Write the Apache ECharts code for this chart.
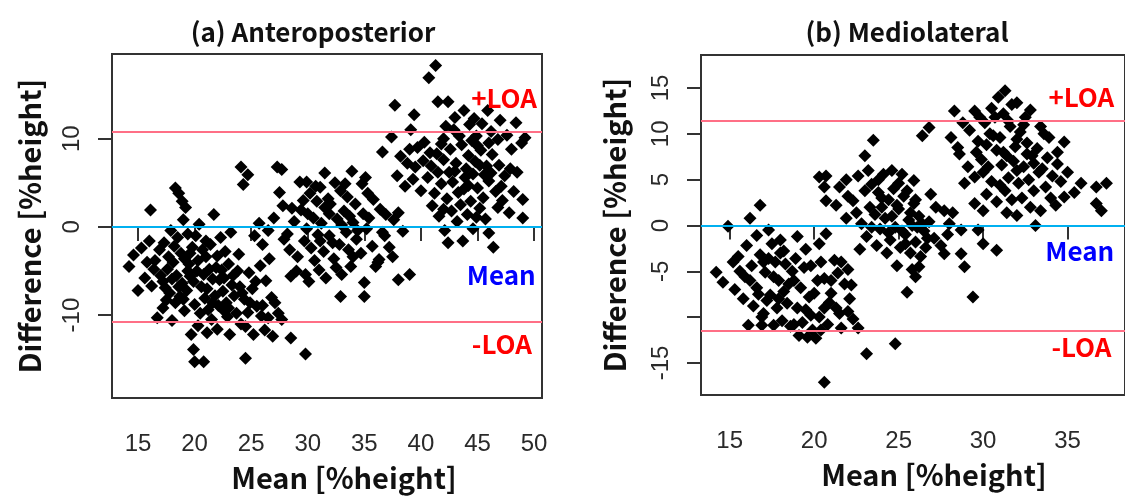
<!DOCTYPE html>
<html><head><meta charset="utf-8">
<script src="https://cdn.jsdelivr.net/npm/echarts@6/dist/echarts.min.js"></script>
<style>html,body{margin:0;padding:0;background:#fff}#c{width:1125px;height:499px}</style>
</head><body><div id="c"></div>
<script>
// ---- texts ----
const panelTitles = ['(a) Anteroposterior', '(b) Mediolateral'];
const xAxisName = 'Mean [%height]';
const yAxisName = 'Difference [%height]';

// ---- ticks / labels ----
const apXTicks = [15, 20, 25, 30, 35, 40, 45, 50];
const apYTicks = [-10, 0, 10];
const apYLabels = [-10, 0, 10];
const mlXTicks = [15, 20, 25, 30, 35, 40];
const mlYTicks = [-15, -10, -5, 0, 5, 10, 15];
const mlYLabels = [-15, -5, 0, 5, 10, 15];

// ---- reference lines ----
const apMean = 0.0, apUpperLOA = 10.8, apLowerLOA = -10.8;
const mlMean = 0.0, mlUpperLOA = 11.4, mlLowerLOA = -11.5;

// ---- (a) Anteroposterior points [mean, difference] ----
const apPoints = [
[14.2,-4.5],[14.6,-3.2],[15.6,-5.8],[15.3,-2.4],[16.1,1.9],[16.0,-1.6],[16.7,-10.3],[17.2,-9.2],[16.5,-3.8],[16.9,-2.6],
[17.3,-1.8],[17.6,-4.8],[17.2,-6.2],[17.8,-7.5],[18.3,-8.6],[17.9,-0.4],[18.3,4.4],[18.6,3.8],[18.9,2.9],[19.2,2.2],
[19.0,0.8],[18.5,-1.2],[18.8,-3.0],[18.4,-5.5],[18.9,-6.4],[19.3,-7.2],[19.7,-12.2],[19.9,-13.9],[20.0,-15.3],[20.8,-15.3],
[19.5,-4.2],[19.8,-2.3],[20.1,-1.0],[20.4,0.3],[20.2,-5.0],[20.6,-6.8],[20.9,-8.1],[21.2,-9.4],[21.5,-10.5],[21.0,-3.4],
[21.4,-2.0],[21.7,1.4],[21.9,-4.6],[22.2,-6.0],[22.5,-7.3],[22.8,-8.6],[22.3,-1.2],[22.7,-2.8],[23.1,-12.2],[23.0,-4.2],
[23.4,-5.5],[23.7,-9.8],[24.1,-11.0],[24.5,-11.3],[24.5,-14.9],[25.2,-12.2],[26.2,-11.7],[24.0,-6.8],[24.4,-8.2],[24.8,-5.2],
[25.1,-7.0],[25.5,-9.0],[25.9,-10.1],[26.3,-6.1],[26.8,-8.0],[27.1,-8.6],[27.4,-9.8],[27.7,-10.5],[28.5,-12.6],[29.8,-14.4],
[28.5,-5.6],[29.8,-5.4],[24.1,6.8],[24.7,5.9],[24.3,4.8],[25.7,0.4],[26.0,-2.0],[26.6,-3.6],[27.3,6.8],[27.7,6.5],
[22.0,-11.6],[21.1,-12.0],[20.3,-11.2],[19.1,-9.5],[18.0,-10.6],[17.5,-8.3],[16.2,-6.7],[15.0,-7.2],[17.0,-5.5],[17.7,-3.4],
[18.2,-2.2],[19.4,-0.8],[20.7,-2.6],[21.3,-4.8],[21.8,-7.8],[22.9,-10.2],[23.5,-7.8],[23.9,-3.1],[24.7,-9.7],[25.8,-4.4],
[26.9,-12.4],[27.9,-1.4],[25.3,-1.0],[23.2,-0.6],[22.1,-8.9],[20.5,-9.8],[19.6,-5.6],[18.7,-7.9],
[18.1,-4.0],[18.6,-6.8],[19.1,-3.6],[19.4,-5.0],[19.9,-6.2],[20.3,-3.8],[20.8,-5.4],[21.1,-7.0],[21.6,-5.9],[22.0,-3.3],
[22.4,-4.9],[22.6,-9.5],[23.3,-6.6],[23.8,-5.0],[24.2,-7.5],[24.9,-8.6],[25.4,-6.2],[26.0,-8.9],[26.5,-10.3],[23.0,-9.2],
[21.6,-8.6],[20.0,-8.8],[19.0,-8.2],[18.0,-5.9],[17.4,-6.9],[16.4,-4.8],[15.8,-4.0],[19.6,-3.0],[21.0,-1.6],[22.6,-5.8],
[29.3,5.1],[29.9,5.1],[31.5,6.1],[33.9,6.3],[30.2,3.8],[30.8,2.9],[31.1,4.5],[31.8,3.2],[32.4,5.0],[32.9,4.1],
[33.5,3.4],[34.2,2.6],[34.8,4.9],[35.3,3.8],[35.8,3.1],[36.4,2.0],[36.9,1.4],[37.6,0.8],[38.0,1.6],[35.1,5.6],
[33.2,1.8],[32.6,0.9],[31.9,1.5],[31.2,0.4],[30.5,1.0],[29.9,-0.2],[29.4,1.9],[28.8,0.6],[28.2,-0.8],[27.8,2.4],
[27.5,3.9],[28.4,-2.6],[29.1,-3.4],[29.7,-1.6],[30.3,-2.4],[30.9,-0.9],[31.4,-2.8],[31.9,-1.0],[32.3,-3.6],[32.8,-2.0],
[33.4,-0.6],[33.8,-4.5],[34.3,-1.4],[34.7,-3.0],[35.2,-0.2],[35.7,-2.2],[36.2,-4.0],[36.0,-4.5],[36.3,-3.7],[37.5,-3.4],
[35.0,-6.3],[35.0,-7.9],[32.9,-7.9],[38.0,-6.0],[39.0,-5.4],[36.8,-1.0],[37.2,-2.3],[38.4,-0.5],[33.0,-5.4],[31.0,-4.9],
[30.1,-6.2],[29.0,-5.0],[34.0,0.5],[32.0,2.6],[30.6,-3.8],[33.6,-2.6],[34.9,1.5],[31.6,-5.8],[27.0,1.0],[26.5,-0.4],
[30.0,1.5],[30.7,4.6],[31.5,2.2],[32.2,-1.8],[33.0,0.2],[33.7,1.2],[34.4,-0.4],[35.4,1.0],[36.6,-0.6],[31.1,-1.6],
[32.5,-4.6],[34.0,-3.4],[29.6,3.0],[28.6,2.1],[33.3,4.9],
[40.7,16.9],[41.3,18.3],[37.7,13.8],[39.4,12.7],[41.5,14.2],[42.4,14.2],[43.8,13.2],[45.9,13.2],[37.4,10.2],[39.1,11.0],
[42.2,11.4],[42.9,11.0],[44.3,11.6],[44.9,10.3],[45.4,11.7],[46.2,10.8],[47.6,10.4],[49.2,10.1],[48.9,9.5],[36.6,8.5],
[38.2,8.0],[38.8,7.2],[39.5,6.8],[40.2,7.5],[40.9,6.9],[41.4,8.3],[42.0,7.6],[42.6,8.8],[43.1,7.2],[43.6,9.3],
[44.2,8.1],[44.8,7.4],[45.3,8.7],[45.8,6.9],[46.3,8.2],[46.9,7.0],[47.4,5.8],[47.9,6.6],[37.9,5.8],[38.6,4.6],
[39.3,5.4],[40.0,4.1],[40.6,5.6],[41.2,3.8],[41.8,4.9],[42.3,3.2],[42.8,5.1],[43.3,3.9],[43.9,5.6],[44.4,2.9],
[45.0,4.4],[45.5,3.3],[46.0,5.2],[46.6,4.0],[47.2,3.0],[48.2,4.0],[49.0,3.1],[49.0,1.0],[46.0,-0.7],[41.0,2.4],
[41.6,1.2],[42.1,-0.4],[42.7,1.8],[43.2,0.6],[43.7,-1.6],[44.1,1.4],[44.6,-0.2],[45.2,2.1],[45.7,0.9],[46.4,-2.3],
[47.8,1.6],[48.5,6.2],[42.4,-1.8],[43.5,2.5],[44.0,6.6],[42.0,10.0],[40.3,9.6],[41.8,9.4],[45.0,9.2],[46.8,9.9],
[48.0,8.8],[43.0,12.4],[44.7,12.3],[39.7,9.0],[47.0,12.1],[48.4,11.8],[44.2,4.7],[45.6,5.9],[43.0,6.3],
[42.5,6.2],[43.8,4.3],[44.6,6.0],[45.2,7.0],[46.2,6.1],[47.1,4.6],[41.5,6.2],[40.8,8.4],[39.0,8.8],[43.4,10.3],
[44.5,9.8],[46.0,9.5],[42.0,2.0],[44.9,1.1],[46.8,2.2]
];

// ---- (b) Mediolateral points [mean, difference] ----
const mlPoints = [
[14.9,-0.1],[16.2,0.8],[16.8,2.2],[16.6,-1.1],[17.3,-0.5],[14.2,-5.1],[14.6,-6.2],[15.2,-4.0],[15.8,-8.0],[16.1,-10.9],
[16.9,-10.9],[17.6,-10.9],[19.1,-12.0],[19.6,-12.2],[20.1,-12.3],[20.6,-17.1],[22.6,-11.2],[15.5,-3.4],[15.9,-5.6],[16.3,-4.4],
[16.6,-6.8],[16.8,-3.2],[17.1,-5.1],[17.4,-7.6],[17.7,-4.0],[17.9,-6.0],[18.2,-2.8],[18.4,-8.5],[18.7,-5.0],[18.9,-3.6],
[19.2,-6.8],[19.5,-9.2],[19.8,-4.4],[20.0,-7.4],[20.3,-10.0],[20.6,-5.8],[20.9,-8.4],[21.2,-3.8],[21.5,-9.6],[21.8,-6.4],
[22.1,-8.0],[22.3,-10.2],[16.4,-8.8],[17.0,-9.6],[17.8,-9.0],[18.1,-10.4],[18.6,-11.0],[19.3,-10.6],[20.8,-10.8],[21.6,-11.2],
[21.6,-4.0],[22.2,-6.5],[15.3,-7.0],[18.0,-1.6],[19.0,-1.2],[20.3,-2.0],[16.0,-2.2],[17.5,-2.0],[18.5,-6.4],[19.7,-7.8],
[21.0,-6.0],[22.0,-4.8],[17.2,-8.2],[19.9,-11.4],[21.3,-9.0],[20.4,-4.0],[18.3,-4.2],[17.3,-3.6],[16.7,-7.5],
[17.6,-5.6],[18.2,-7.2],[18.8,-6.0],[19.4,-4.6],[19.8,-9.8],[20.2,-6.0],[20.6,-9.0],[21.0,-7.4],[17.0,-4.0],[16.2,-6.0],
[17.9,-8.0],[19.0,-9.0],[18.0,-3.0],[21.4,-5.2],[22.0,-9.4],[19.5,-2.6],[16.9,-10.0],[18.8,-10.8],[20.4,-11.4],[15.6,-5.0],
[20.7,-0.9],[20.3,5.3],[20.7,5.4],[20.6,4.2],[20.7,2.7],[21.3,2.2],[22.3,2.7],[23.0,7.6],[23.5,9.3],[23.2,6.0],
[25.9,4.9],[26.4,9.8],[26.8,10.7],[27.2,2.0],[27.7,1.6],[28.2,1.4],[28.7,-0.5],[30.8,-2.7],[23.1,-14.0],[24.8,-12.9],
[25.5,-7.3],[26.0,-5.6],[24.9,-4.4],[26.2,-4.5],[28.9,-4.5],[29.4,-7.8],[27.7,-3.1],[28.7,-3.1],
[23.4,4.5],[23.8,3.6],[24.1,5.6],[24.4,2.8],[24.7,4.0],[25.0,1.8],[25.3,3.2],[25.6,0.6],[25.9,2.4],[26.2,1.0],
[26.5,-0.6],[26.8,0.4],[27.1,-1.4],[23.6,1.2],[23.9,-0.4],[24.2,0.8],[24.5,-1.6],[24.8,-0.2],[25.1,-2.4],[25.4,-1.0],
[25.7,-3.0],[26.0,-1.8],[26.3,-3.4],[26.6,-2.4],[22.8,0.2],[23.1,-1.2],[23.3,2.0],[22.5,1.4],[21.9,0.8],[22.0,3.2],
[21.5,4.2],[21.9,5.0],[24.0,3.0],[24.6,6.0],[25.2,5.6],[25.8,-4.8],[24.3,-3.0],[23.7,-2.2],[27.5,-2.2],[28.0,0.2],
[27.9,-1.0],[22.7,-2.6],[26.9,3.4],[25.5,3.8],[24.9,2.2],[26.1,-0.2],
[24.6,1.0],[25.2,-0.6],[25.8,0.0],[24.0,2.0],[25.0,4.6],[23.8,5.0],[26.4,0.2],[26.0,2.8],[24.4,-0.8],[25.4,-2.0],
[23.4,-0.2],[26.7,-1.4],[23.0,3.8],[22.6,5.4],[25.7,1.4],
[28.1,9.6],[28.5,8.5],[28.6,7.8],[28.3,12.5],[29.5,12.5],[31.3,14.7],[30.9,14.0],[32.0,13.4],[32.5,11.8],[33.6,10.0],
[34.8,9.1],[35.0,5.8],[34.4,6.7],[36.7,4.2],[37.3,4.6],[36.7,2.4],[37.0,1.6],[34.8,3.1],[33.1,0.0],[29.5,2.4],
[30.0,1.6],[31.4,1.4],[32.0,1.1],[29.5,5.3],[28.9,4.6],[30.8,8.2],[30.3,6.4],
[29.2,10.4],[29.7,9.2],[30.1,11.2],[30.4,10.0],[30.7,11.8],[31.0,9.6],[31.2,12.2],[31.6,10.8],[31.9,8.6],[32.2,10.2],
[32.6,9.0],[32.9,7.6],[33.2,8.4],[33.5,6.2],[33.8,7.4],[34.1,5.4],[29.9,7.2],[30.5,4.8],[31.1,6.6],[31.5,5.2],
[31.8,7.0],[32.1,4.6],[32.4,6.4],[32.7,5.0],[33.0,3.8],[33.3,5.8],[33.7,4.2],[34.0,3.0],[34.3,2.2],[30.2,3.4],
[30.8,2.6],[31.3,3.8],[31.7,2.8],[32.3,3.0],[32.8,2.0],[29.1,6.4],[28.8,11.2],[33.9,9.6],[32.8,12.6],[31.7,13.2],
[30.5,12.8],[29.6,8.0],[34.6,4.8],[35.4,3.6],[35.8,4.6],[30.0,-2.0],[29.7,-0.5],[33.4,1.6],
[30.2,8.8],[30.6,9.8],[31.2,8.0],[31.5,11.4],[32.0,9.4],[32.4,11.0],[32.0,6.0],[31.0,4.4],[32.6,7.8],[33.4,10.8],
[29.8,11.8],[30.0,5.8],[33.0,6.8],[31.4,7.6],[34.4,8.0]
];

// ---- build ----
const FONT_CJK = "'Noto Sans CJK JP', 'Noto Sans', sans-serif";
const FONT_TICK = "'Liberation Sans Narrow', 'Liberation Sans', sans-serif";
const TXT = '#2a2a2a';
const LOA_COLOR = '#ff6f86';
const MEAN_COLOR = '#00b0f0';

function xAxisCfg(gridIndex, min, max, ticks, namePad) {
  return {
    type: 'value', gridIndex, min, max,
    name: xAxisName, nameLocation: 'middle', nameGap: 65,
    nameTextStyle: { fontFamily: FONT_CJK, fontSize: 29, fontWeight: 'bold', color: '#111', padding: [0, 0, 0, namePad] },
    axisLine: { show: false },
    axisTick: { show: true, length: 14, lineStyle: { color: '#333', width: 2 }, customValues: ticks },
    axisLabel: { show: true, margin: 34, fontFamily: FONT_TICK, fontSize: 24, color: TXT, customValues: ticks },
    splitLine: { show: false }
  };
}
function yAxisCfg(gridIndex, min, max, ticks, labels, nameGap) {
  return {
    type: 'value', gridIndex, min, max,
    name: yAxisName, nameLocation: 'middle', nameGap, nameRotate: 90,
    nameTextStyle: { fontFamily: FONT_CJK, fontSize: 29, fontWeight: 'bold', color: '#111' },
    axisLine: { show: false },
    axisTick: { show: true, length: 14, lineStyle: { color: '#333', width: 2 }, customValues: ticks },
    axisLabel: { show: true, rotate: 90, margin: 28, fontFamily: FONT_TICK, fontSize: 24, color: TXT, customValues: labels },
    splitLine: { show: false }
  };
}
function refLines(mean, up, low) {
  return {
    silent: true, symbol: 'none', animation: false,
    label: { show: false },
    data: [
      { yAxis: up, lineStyle: { color: LOA_COLOR, width: 2, type: 'solid', opacity: 1 } },
      { yAxis: mean, lineStyle: { color: MEAN_COLOR, width: 2, type: 'solid', opacity: 1 } },
      { yAxis: low, lineStyle: { color: LOA_COLOR, width: 2, type: 'solid', opacity: 1 } }
    ]
  };
}
function annot(xIdx, items) {
  return {
    type: 'scatter', xAxisIndex: xIdx, yAxisIndex: xIdx, symbolSize: 0, silent: true, z: 5,
    itemStyle: { opacity: 1 },
    data: items.map(it => ({
      value: it.pos,
      label: { show: true, position: 'left', distance: 0, formatter: it.text,
               fontFamily: FONT_CJK, fontSize: 26, fontWeight: 'bold', color: it.color, opacity: 1 }
    }))
  };
}

const chart = echarts.init(document.getElementById('c'), null, { renderer: 'canvas' });
chart.setOption({
  animation: false,
  backgroundColor: '#ffffff',
  graphic: [
    { type: 'text', x: 313, y: 32, style: { text: panelTitles[0], fontFamily: FONT_CJK, fontSize: 26, fontWeight: 'bold', fill: '#111', align: 'center', verticalAlign: 'middle' } },
    { type: 'text', x: 907, y: 32, style: { text: panelTitles[1], fontFamily: FONT_CJK, fontSize: 26, fontWeight: 'bold', fill: '#111', align: 'center', verticalAlign: 'middle' } }
  ],
  grid: [
    { left: 112, top: 54, width: 430, height: 344, show: true, borderColor: '#333', borderWidth: 2, backgroundColor: 'transparent' },
    { left: 701, top: 55, width: 430, height: 340, show: true, borderColor: '#333', borderWidth: 2, backgroundColor: 'transparent' }
  ],
  xAxis: [
    xAxisCfg(0, 12.7, 50.7, apXTicks, 34),
    xAxisCfg(1, 13.3, 38.4, mlXTicks, 42)
  ],
  yAxis: [
    yAxisCfg(0, -19.4, 19.6, apYTicks, apYLabels, 68),
    yAxisCfg(1, -18.5, 18.6, mlYTicks, mlYLabels, 72)
  ],
  series: [
    { type: 'scatter', xAxisIndex: 0, yAxisIndex: 0, symbol: 'diamond', symbolSize: 13,
      itemStyle: { color: '#000', opacity: 1 }, data: apPoints, markLine: refLines(apMean, apUpperLOA, apLowerLOA) },
    { type: 'scatter', xAxisIndex: 1, yAxisIndex: 1, symbol: 'diamond', symbolSize: 13,
      itemStyle: { color: '#000', opacity: 1 }, data: mlPoints, markLine: refLines(mlMean, mlUpperLOA, mlLowerLOA) },
    annot(0, [
      { pos: [50.25, 14.6], text: '+LOA', color: '#ff0000' },
      { pos: [50.15, -5.45], text: 'Mean', color: '#0000ff' },
      { pos: [49.8, -13.3], text: '-LOA', color: '#ff0000' }
    ]),
    annot(1, [
      { pos: [37.76, 13.96], text: '+LOA', color: '#ff0000' },
      { pos: [37.76, -2.8], text: 'Mean', color: '#0000ff' },
      { pos: [37.6, -13.28], text: '-LOA', color: '#ff0000' }
    ])
  ]
});
</script>
</body></html>
